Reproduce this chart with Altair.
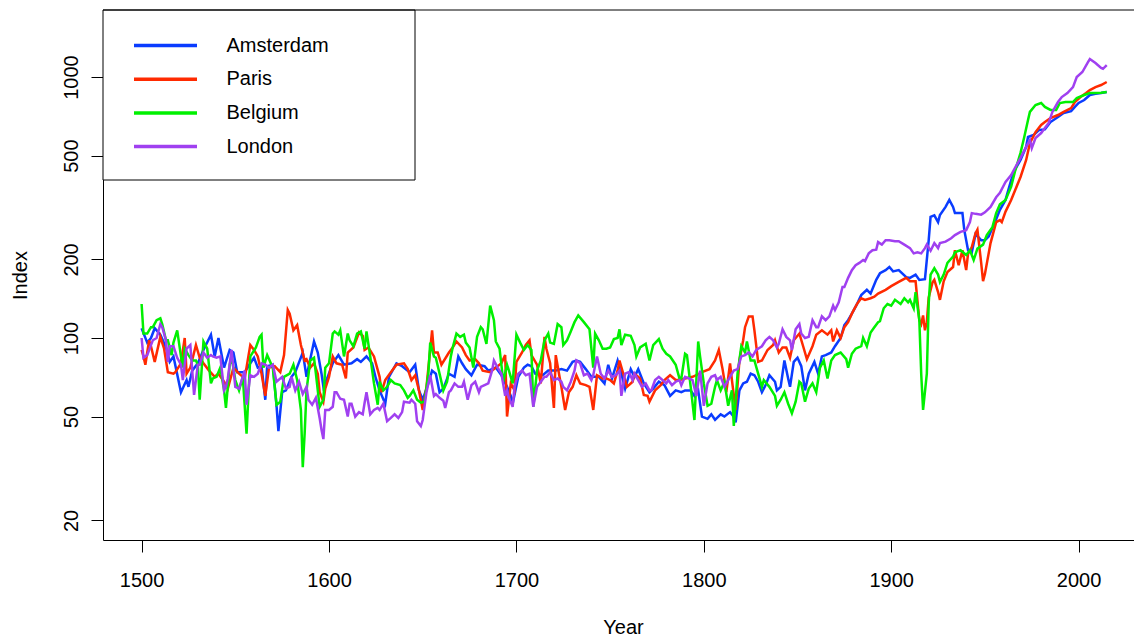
import altair as alt
import pandas as pd

SERIES = ["Amsterdam", "Paris", "Belgium", "London"]
COLORS = ["#0A3CFF", "#FF2A00", "#00F000", "#A040F0"]

AMSTERDAM = [(1500,109),(1503,96),(1505,100),(1507,109),(1510,103),(1513,92),(1515,81),(1517,85),(1521,62),(1524,69),(1525,65),(1527,75),(1530,80),(1533,90),(1537,103),(1539,85),(1541,100),(1544,77),(1547,90),(1549,88),(1551,74),(1555,74),(1558,80),(1560,84),(1562,77),(1564,78),(1566,58),(1567,78),(1570,79),(1572,55),(1573,44),(1575,62),(1577,63),(1580,71),(1582,74),(1586,88),(1588,71),(1592,97),(1594,88),(1596,73),(1597,65),(1599,70),(1602,80),(1605,86),(1608,79),(1612,80),(1615,83),(1617,81),(1620,85),(1623,80),(1625,70),(1627,63),(1630,56),(1632,71),(1636,80),(1639,78),(1643,74),(1646,79),(1648,63),(1650,58),(1653,67),(1655,75),(1657,73),(1659,62),(1661,64),(1664,73),(1667,71),(1669,85),(1671,80),(1673,76),(1676,72),(1679,79),(1683,78),(1685,75),(1689,77),(1692,72),(1695,65),(1697,60),(1698,56),(1701,71),(1704,77),(1706,79),(1708,78),(1710,73),(1714,72),(1717,75),(1721,75),(1724,76),(1727,75),(1730,81),(1732,82),(1734,81),(1737,76),(1740,71),(1744,71),(1747,67),(1749,79),(1751,70),(1754,82),(1756,73),(1758,64),(1761,76),(1763,71),(1765,76),(1768,67),(1771,62),(1773,64),(1776,68),(1779,66),(1782,60),(1785,63),(1788,62),(1790,63),(1793,63),(1795,60),(1797,63),(1799,50),(1802,49),(1804,51),(1806,48.6),(1809,51),(1811,50),(1814,52),(1816,50),(1817,47.5),(1819,63),(1821,67),(1823,68),(1825,73),(1827,72),(1829,68),(1831,62),(1833,66),(1835,72),(1838,68),(1839,63),(1841,65),(1843,82),(1845,70),(1846,65),(1848,81),(1850,84),(1852,78),(1854,63),(1856,73),(1859,81),(1861,73),(1863,85),(1865,86),(1868,88),(1870,93),(1873,100),(1875,112),(1877,117),(1879,124),(1882,136),(1884,146),(1887,153),(1889,148),(1892,167),(1894,177),(1897,182),(1899,187),(1901,180),(1904,182),(1908,171),(1910,170),(1913,175),(1915,167),(1918,168),(1920,237),(1921,291),(1923,295),(1925,278),(1926,296),(1929,318),(1931,338),(1933,318),(1934,301),(1938,301),(1939,259),(1941,217),(1943,213),(1945,250),(1948,237),(1950,237),(1952,245),(1956,285),(1958,310),(1961,338),(1964,403),(1966,441),(1969,481),(1972,540),(1973,589),(1976,600),(1979,627),(1982,630),(1985,672),(1989,703),(1992,728),(1996,740),(1998,768),(2000,795),(2003,816),(2006,853),(2009,862),(2012,868),(2015,876)]

PARIS = [(1500,90),(1501,85),(1502,79),(1504,98),(1505,93),(1507,81),(1510,101),(1512,91),(1514,74),(1517,73),(1518,74),(1521,80),(1523,100),(1524,73),(1526,77),(1529,94),(1531,84),(1533,80),(1536,75),(1539,71),(1541,73),(1544,68),(1546,64),(1549,77),(1552,73),(1555,70),(1558,94),(1560,90),(1562,85),(1564,73),(1566,60),(1568,77),(1571,78),(1574,74),(1576,86),(1578,128),(1579,124),(1581,107),(1583,112),(1585,94),(1587,82),(1588,83),(1590,77),(1592,80),(1594,73),(1595,62),(1597,57),(1598,64),(1600,71),(1602,85),(1604,80),(1607,79),(1609,70),(1610,88),(1613,92),(1616,105),(1618,102),(1619,90),(1621,92),(1624,85),(1627,71),(1628,62),(1630,69),(1633,74),(1636,79),(1640,80),(1642,76),(1644,69),(1646,72),(1648,63),(1650,53),(1652,65),(1654,90),(1655,107),(1656,88),(1658,88),(1660,79),(1664,88),(1666,92),(1668,97),(1671,92),(1673,86),(1675,82),(1678,83),(1680,80),(1682,75),(1686,74),(1689,77),(1692,80),(1694,86),(1695,50),(1697,67),(1699,63),(1700,81),(1703,88),(1705,94),(1707,98),(1708,86),(1711,79),(1713,67),(1715,101),(1716,91),(1718,80),(1720,54),(1721,86),(1723,71),(1724,65),(1726,53),(1728,62),(1730,65),(1732,72),(1734,67),(1737,66),(1739,65),(1741,53),(1743,72),(1746,70),(1748,70),(1750,69),(1752,67),(1754,75),(1755,82),(1757,73),(1759,65),(1762,68),(1763,73),(1766,70),(1768,60.5),(1770,60),(1771,57),(1774,63),(1777,66),(1779,69),(1782,72),(1785,69),(1787,69),(1790,70),(1794,71),(1796,72),(1799,74),(1803,76),(1806,82),(1808,90),(1810,76),(1812,62),(1814,80),(1815,69),(1817,53),(1819,82),(1821,98),(1822,110),(1824,121),(1826,121),(1827,107),(1829,81),(1831,82),(1834,90),(1837,94),(1838,98),(1840,88),(1842,92),(1844,92),(1846,84),(1848,98),(1851,104),(1853,93),(1855,83),(1858,93),(1860,103),(1863,107),(1866,103),(1868,107),(1869,97),(1871,107),(1873,100),(1875,110),(1877,115),(1879,124),(1882,136),(1884,142),(1886,140),(1889,142),(1891,144),(1893,148),(1897,153),(1900,158),(1904,164),(1908,170),(1910,165),(1913,165),(1915,117),(1916,113),(1917,122),(1918,107),(1919,115),(1920,143),(1922,163),(1923,167),(1925,150),(1926,140),(1928,165),(1930,179),(1933,187),(1934,217),(1936,190),(1938,217),(1940,182),(1941,210),(1943,223),(1945,252),(1946,260),(1948,194),(1949,165),(1950,176),(1953,231),(1956,278),(1958,283),(1959,278),(1961,305),(1964,338),(1969,414),(1972,481),(1974,558),(1977,615),(1980,655),(1982,672),(1985,696),(1989,715),(1992,735),(1996,760),(1998,802),(2001,838),(2004,868),(2006,891),(2009,915),(2012,932),(2015,957)]

BELGIUM = [(1500,135),(1501,104),(1503,104),(1505,110),(1506,110),(1508,117),(1510,119),(1511,113),(1513,98),(1514,98),(1516,86),(1517,96),(1519,107),(1521,85),(1522,77),(1523,91),(1525,86),(1527,82),(1529,82),(1530,79),(1531,58),(1533,97),(1535,91),(1537,67),(1538,70),(1540,71),(1542,77),(1544,63),(1545,54),(1547,79),(1548,85),(1550,69),(1552,63),(1554,71),(1556,43),(1558,85),(1561,92),(1563,101),(1564,103),(1565,77),(1567,86),(1570,77),(1572,55.5),(1574,57),(1576,71),(1579,73),(1581,79),(1583,69),(1585,53),(1586,32),(1587,43),(1588,63),(1590,82),(1592,84),(1593,73),(1595,54.5),(1597,58),(1598,77),(1600,80),(1602,104),(1603,106),(1605,103),(1606,107),(1608,85),(1610,104),(1611,98),(1613,93),(1615,104),(1617,106),(1619,91),(1620,106),(1622,85),(1624,67),(1626,55.5),(1627,68),(1629,63),(1631,65),(1633,69),(1635,67),(1638,66),(1640,63),(1642,59),(1643,60),(1645,63),(1647,58),(1649,56.5),(1651,57),(1653,73),(1654,96),(1656,85),(1657,84),(1659,73),(1661,63),(1663,68),(1665,85),(1666,92),(1668,104),(1670,101),(1672,103),(1673,96),(1675,92),(1677,77),(1679,101),(1681,110),(1682,108),(1684,95),(1686,133),(1688,117),(1689,97),(1691,91),(1693,68),(1695,79),(1696,75),(1698,67),(1700,103),(1702,96),(1704,90),(1706,94),(1708,90),(1709,54.5),(1711,75),(1713,82),(1715,98),(1717,104),(1718,96),(1720,95),(1722,113),(1724,110),(1725,94),(1727,98),(1729,106),(1731,115),(1733,122),(1736,115),(1739,108),(1741,77),(1742,104),(1744,98),(1746,91),(1748,91),(1750,92),(1752,99),(1754,100),(1755,108),(1756,94),(1758,103),(1761,102),(1763,94),(1764,85),(1766,92),(1769,95),(1771,82),(1773,94),(1776,99),(1778,91),(1780,87),(1782,85),(1785,79),(1787,70),(1788,70),(1790,87),(1791,86),(1793,65),(1795,48.5),(1797,97),(1798,85),(1800,67),(1802,55),(1804,56),(1806,65),(1807,69),(1809,63),(1811,68),(1813,55),(1815,63),(1816,46),(1818,73),(1820,93),(1822,88),(1823,97),(1825,82),(1827,82),(1829,73),(1831,65),(1832,69),(1835,65),(1838,60),(1839,55),(1841,58),(1843,62),(1845,56),(1847,51.5),(1849,57),(1851,68),(1852,67),(1854,57),(1856,64),(1858,67),(1860,62),(1862,77),(1864,82),(1866,70),(1868,82),(1870,86),(1873,88),(1876,83),(1877,77),(1879,87),(1881,91),(1884,93),(1885,100),(1887,93),(1889,105),(1891,110),(1893,115),(1894,116),(1896,130),(1898,135),(1900,133),(1902,140),(1905,135),(1907,142),(1909,137),(1910,140),(1912,130),(1913,150),(1915,117),(1916,73),(1917,53),(1919,73),(1920,136),(1921,175),(1923,185),(1925,175),(1926,164),(1928,175),(1930,194),(1933,205),(1934,213),(1937,217),(1940,208),(1942,217),(1944,199),(1946,220),(1949,228),(1951,248),(1954,266),(1956,301),(1958,325),(1961,338),(1964,380),(1966,434),(1969,512),(1971,589),(1973,684),(1974,735),(1977,781),(1980,795),(1982,768),(1985,748),(1988,748),(1990,795),(1993,802),(1997,802),(1999,831),(2003,853),(2006,868),(2009,868),(2012,870),(2015,876)]

LONDON = [(1500,100),(1501,84),(1503,86),(1505,94),(1506,98),(1508,100),(1510,113),(1511,110),(1513,98),(1514,81),(1515,93),(1517,93),(1519,84),(1521,79),(1522,69),(1524,91),(1526,94),(1528,60.5),(1530,79),(1531,79),(1533,88),(1535,84),(1537,86),(1538,85),(1540,84),(1542,85),(1544,63),(1545,65),(1546,70),(1548,90),(1550,65),(1552,64),(1555,75),(1556,55.5),(1558,72),(1560,71),(1562,73),(1564,80),(1566,79),(1568,77),(1570,79),(1572,68),(1575,71),(1577,64),(1579,65),(1580,71),(1582,63),(1584,68),(1586,61),(1588,65),(1589,58),(1591,55.5),(1593,59),(1595,49.4),(1596,44.5),(1597,41),(1598,53),(1600,53),(1602,54.5),(1603,62),(1604,62),(1606,58.5),(1608,58),(1610,50),(1611,56),(1612,56),(1614,50),(1616,52),(1618,51),(1619,56.5),(1620,62),(1622,51),(1624,53),(1626,54),(1627,53),(1629,56),(1631,48),(1633,49.4),(1635,51),(1637,49.4),(1639,52),(1640,57),(1643,56.5),(1644,58),(1646,56),(1647,48),(1649,46),(1650,48.5),(1652,62),(1654,72),(1656,60),(1657,61),(1659,59),(1661,57.5),(1662,54),(1664,62),(1665,63),(1667,67),(1669,65),(1671,65),(1672,68),(1674,58),(1676,66),(1678,68),(1680,62),(1681,65),(1683,66),(1685,67),(1687,75),(1688,82),(1690,77),(1692,73),(1694,60),(1695,63),(1696,59),(1698,54.5),(1699,65),(1701,73),(1703,75),(1705,72),(1707,73),(1709,54.5),(1711,65),(1713,68),(1715,71),(1716,71),(1718,74),(1720,69),(1722,70),(1724,68),(1725,65),(1727,63),(1729,68),(1731,75),(1732,82),(1734,80),(1736,72),(1738,73),(1740,69),(1741,72),(1743,85),(1745,73),(1747,70),(1749,75),(1751,71),(1753,72),(1755,75),(1756,60),(1758,73),(1760,74),(1762,69),(1763,73),(1765,69),(1767,65),(1769,67),(1771,63),(1772,63),(1774,69),(1776,71),(1777,70),(1780,67),(1781,69),(1783,66),(1785,68),(1787,69),(1788,66),(1790,71),(1792,70),(1794,69),(1796,60),(1798,75),(1800,55),(1802,67),(1804,71),(1806,72),(1807,69),(1809,71),(1811,65),(1813,69),(1815,73),(1816,75),(1818,76),(1820,85),(1822,86),(1824,88),(1826,85),(1828,90),(1830,92),(1831,93),(1833,98),(1835,101),(1837,98),(1839,92),(1840,95),(1842,108),(1844,101),(1846,98),(1847,90),(1849,108),(1851,113),(1852,104),(1854,100),(1856,101),(1858,117),(1860,110),(1861,110),(1863,121),(1865,117),(1867,121),(1869,133),(1870,128),(1872,137),(1874,157),(1875,157),(1877,170),(1879,182),(1881,190),(1883,194),(1885,199),(1886,197),(1888,211),(1890,217),(1892,218),(1893,233),(1895,228),(1897,237),(1899,237),(1902,235),(1904,235),(1907,228),(1910,221),(1912,211),(1914,213),(1916,211),(1918,221),(1919,228),(1921,216),(1923,231),(1925,221),(1926,231),(1929,234),(1932,241),(1934,248),(1937,255),(1940,259),(1942,278),(1943,301),(1945,299),(1948,297),(1950,303),(1953,318),(1956,346),(1958,360),(1961,396),(1964,421),(1966,448),(1969,490),(1972,540),(1974,574),(1975,534),(1977,584),(1980,610),(1982,638),(1984,666),(1986,735),(1989,802),(1991,838),(1994,868),(1997,915),(1999,1000),(2002,1045),(2005,1140),(2006,1172),(2009,1131),(2012,1083),(2013,1075),(2015,1110)]

X_TICKS = [1500, 1600, 1700, 1800, 1900, 2000]
Y_TICKS = [20, 50, 100, 200, 500, 1000]

rows = []
for name, pts in zip(SERIES, [AMSTERDAM, PARIS, BELGIUM, LONDON]):
    for yr, v in pts:
        rows.append({"Year": yr, "Index": v, "City": name})
df = pd.DataFrame(rows)

FONT = "Liberation Sans"
W, H = 1031, 530
LEG_W, LEG_H = 312, 170

lines = alt.Chart(df).mark_line(strokeWidth=2.5, clip=True).encode(
    x=alt.X("Year:Q",
            scale=alt.Scale(domain=[1479.4, 2029.55], nice=False, zero=False),
            axis=alt.Axis(values=X_TICKS, format="d", grid=False, tickSize=12,
                          tickColor="black", domainColor="black", labelColor="black",
                          labelFont=FONT, labelFontSize=20, labelPadding=18,
                          labelFlush=False, title="Year", titleFont=FONT,
                          titleFontSize=20, titleFontWeight="normal", titleColor="black",
                          titleX=520, titleY=87, titleAlign="center",
                          titleBaseline="middle")),
    y=alt.Y("Index:Q",
            scale=alt.Scale(type="log", domain=[16.83, 1806], nice=False, zero=False),
            axis=alt.Axis(values=Y_TICKS, format="d", grid=False, tickSize=12,
                          tickColor="black", domainColor="black", labelColor="black",
                          labelFont=FONT, labelFontSize=20, labelPadding=10,
                          labelAngle=270, labelAlign="center", labelBaseline="bottom",
                          labelFlush=False, title="Index", titleFont=FONT,
                          titleFontSize=20, titleFontWeight="normal", titleColor="black",
                          titleX=-83, titleY=265, titleAngle=270, titleAlign="center",
                          titleBaseline="middle")),
    color=alt.Color("City:N",
                    scale=alt.Scale(domain=SERIES, range=COLORS),
                    legend=alt.Legend(orient="none", legendX=0, legendY=0, title=None,
                                      symbolType="M-3,0H3", symbolSize=441,
                                      symbolStrokeWidth=3.5, symbolOffset=27,
                                      labelFont=FONT, labelFontSize=20,
                                      labelColor="black", labelOffset=48.5,
                                      rowPadding=10.7, padding=23)),
)

legend_box = alt.Chart(pd.DataFrame({"k": [0]})).mark_rect(
    fill="white", stroke="black", strokeWidth=1
).encode(x=alt.value(0), x2=alt.value(LEG_W), y=alt.value(0), y2=alt.value(LEG_H))

top_rule = alt.Chart(pd.DataFrame({"k": [0]})).mark_rule(color="black", strokeWidth=1).encode(
    x=alt.value(0), x2=alt.value(W), y=alt.value(0)
)

chart = alt.layer(lines, legend_box, top_rule).properties(
    width=W, height=H,
    autosize=alt.AutoSizeParams(type="none"),
    padding={"left": 103, "top": 10, "right": 0, "bottom": 96},
    background="white",
).configure_view(strokeWidth=0)

chart.save("out.html", embed_options={"renderer": "svg", "actions": False})
